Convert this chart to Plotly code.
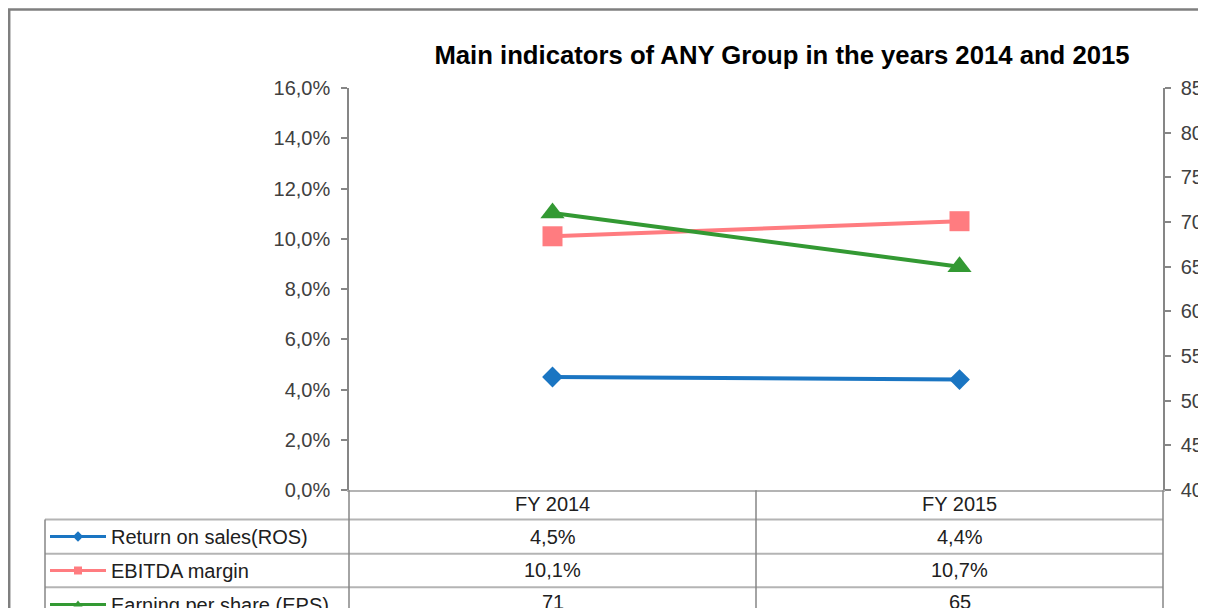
import plotly.graph_objects as go

# ---- data ----
categories = ["FY 2014", "FY 2015"]
ros = [4.5, 4.4]          # % (left axis)
ebitda = [10.1, 10.7]     # % (left axis)
eps = [71, 65]            # right axis
series_names = ["Return on sales(ROS)", "EBITDA margin", "Earning per share (EPS)"]
left_ticks = [0, 2, 4, 6, 8, 10, 12, 14, 16]
left_tick_labels = ["0,0%", "2,0%", "4,0%", "6,0%", "8,0%", "10,0%", "12,0%", "14,0%", "16,0%"]
right_ticks = [40, 45, 50, 55, 60, 65, 70, 75, 80, 85]

# page body keeps its default 8px margin
OFF = 8
SY = 1.022               # observed vertical scaling of the capture
W, H = 1206, 616
def px_x(p): return (p - OFF) / W
def px_y(p): return 1 - (p * SY - OFF) / H

FONT = "Liberation Sans, Arial, sans-serif"
TXT = "#404040"
BLUE = "#1A75C2"
PINK = "#FF7C80"
GREEN = "#339933"
AXC = "#868686"
GRIDC = "#B4B4B4"

fig = go.Figure()

styles = [
    dict(color=BLUE, symbol="diamond", size=16),
    dict(color=PINK, symbol="square", size=20),
    dict(color=GREEN, symbol="triangle-up", size=21),
]
datas = [(ros, "y"), (ebitda, "y"), (eps, "y2")]

for name, (vals, ax), st in zip(series_names, datas, styles):
    fig.add_trace(go.Scatter(
        x=categories, y=vals, name=name, mode="lines+markers", yaxis=ax,
        line=dict(color=st["color"], width=4),
        marker=dict(color=st["color"], symbol=st["symbol"], size=st["size"]),
        showlegend=False, cliponaxis=False,
    ))

# legend-key traces (small symbols, as in the data table)
for i, (name, st) in enumerate(zip(series_names, styles)):
    fig.add_trace(go.Scatter(
        x=[None], y=[None], name=name, mode="lines+markers",
        line=dict(color=st["color"], width=3),
        marker=dict(color=st["color"], symbol=st["symbol"], size=8),
        legendgroup=f"g{i}", showlegend=True,
    ))

xdom = [px_x(349), px_x(1163)]
ydom = [px_y(485), px_y(87)]

tickfont = dict(family=FONT, size=20, color=TXT)

fig.update_layout(
    width=W, height=H,
    margin=dict(l=0, r=0, t=0, b=0),
    paper_bgcolor="white", plot_bgcolor="white",
    template="none",
    title=dict(
        text="Main indicators of ANY Group in the years 2014 and 2015",
        x=px_x(782), y=px_y(54), xanchor="center", yanchor="middle",
        font=dict(family=FONT, size=25.7, color="#000000", weight="bold"),
    ),
    xaxis=dict(
        domain=xdom, type="category", range=[-0.5, 1.5],
        showgrid=False, zeroline=False, showticklabels=False, ticks="",
        showline=True, linecolor=GRIDC, linewidth=2, fixedrange=True,
    ),
    yaxis=dict(
        domain=ydom, range=[0, 16], tickvals=left_ticks, ticktext=left_tick_labels,
        showgrid=False, zeroline=False,
        showline=True, linecolor=AXC, linewidth=1.5,
        ticks="outside", ticklen=6, tickcolor=AXC, tickwidth=1.5,
        tickfont=tickfont, ticklabelstandoff=7, automargin=False,
    ),
    yaxis2=dict(
        overlaying="y", side="right", anchor="x", range=[40, 85],
        tickvals=right_ticks, showgrid=False, zeroline=False,
        showline=True, linecolor=AXC, linewidth=1.5,
        ticks="outside", ticklen=6, tickcolor=AXC, tickwidth=1.5,
        tickfont=tickfont, ticklabelstandoff=6, automargin=False,
    ),
    yaxis3=dict(
        overlaying="y", side="left", anchor="x", range=[0, 16],
        tickvals=left_ticks, showticklabels=False, showgrid=False,
        zeroline=False, showline=False, ticks="inside", ticklen=6,
        tickcolor=AXC, tickwidth=1.5,
    ),
    yaxis4=dict(
        overlaying="y", side="right", anchor="x", range=[40, 85],
        tickvals=right_ticks, showticklabels=False, showgrid=False,
        zeroline=False, showline=False, ticks="inside", ticklen=6,
        tickcolor=AXC, tickwidth=1.5,
    ),
    legend=dict(
        x=px_x(45), y=px_y(512), xanchor="left", yanchor="top",
        font=dict(family=FONT, size=20, color="#202020"),
        itemwidth=56, tracegroupgap=5, bgcolor="rgba(0,0,0,0)",
        borderwidth=0,
    ),
    showlegend=True,
)

# ---- data table below the plot ----
shapes = []
def hline(y, x0, x1, color=GRIDC, w=2):
    shapes.append(dict(type="line", xref="paper", yref="paper",
                       x0=px_x(x0), x1=px_x(x1), y0=px_y(y), y1=px_y(y),
                       line=dict(color=color, width=w)))
def vline(x, y0, y1, color=AXC, w=1.5):
    shapes.append(dict(type="line", xref="paper", yref="paper",
                       x0=px_x(x), x1=px_x(x), y0=px_y(y0), y1=px_y(y1),
                       line=dict(color=color, width=w)))

row_lines = [514, 548, 581]
for y in row_lines:
    hline(y, 45, 1163)
vline(45, 514, 620)
vline(349, 485, 620)
vline(756, 485, 620)
vline(1163, 485, 620)

# outer frame of the chart object
shapes.append(dict(type="line", xref="paper", yref="paper",
                   x0=px_x(9.2), x1=px_x(9.2), y0=px_y(9), y1=px_y(620),
                   line=dict(color="#7F7F7F", width=2.5)))
shapes.append(dict(type="line", xref="paper", yref="paper",
                   x0=px_x(8), x1=px_x(1220), y0=px_y(9.2), y1=px_y(9.2),
                   line=dict(color="#7F7F7F", width=2.5)))

annotations = []
cellfont = dict(family=FONT, size=20, color="#202020")
header_y = 499
row_y = [531, 564, 596]
for c in categories:
    annotations.append(dict(x=c, xref="x", y=px_y(header_y), yref="paper",
                            text=c, showarrow=False, font=cellfont,
                            xanchor="center", yanchor="middle"))

def fmt_pct(v):
    return f"{v:.1f}".replace(".", ",") + "%"

table_rows = [[fmt_pct(v) for v in ros], [fmt_pct(v) for v in ebitda], [str(v) for v in eps]]
for ry, row in zip(row_y, table_rows):
    for c, t in zip(categories, row):
        annotations.append(dict(x=c, xref="x", y=px_y(ry), yref="paper",
                                text=t, showarrow=False, font=cellfont,
                                xanchor="center", yanchor="middle"))

fig.update_layout(shapes=shapes, annotations=annotations)

fig.write_html("out.html", config={"displayModeBar": False})
